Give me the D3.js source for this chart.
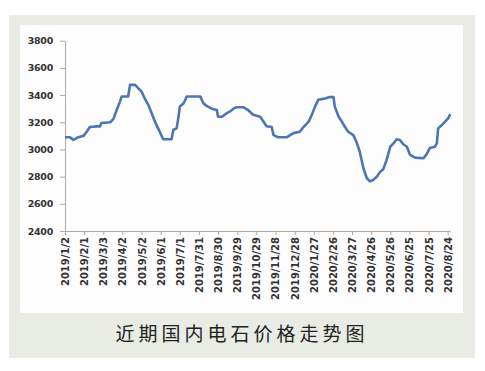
<!DOCTYPE html>
<html>
<head>
<meta charset="utf-8">
<script src="https://cdn.jsdelivr.net/npm/d3@7"></script>
<style>
  body { margin: 0; background: #fff; }
  svg { display: block; }
  .axis path, .axis line { stroke: #b3a79e; }
  .axis text { font-family: "DejaVu Sans", sans-serif; font-weight: bold; fill: #333; }
</style>
</head>
<body>
<svg id="chart" width="485" height="371"></svg>
<script>
// calcium carbide price
const dates = [
  "2019-01-02", "2019-01-10", "2019-01-15", "2019-01-23", "2019-01-31", "2019-02-05",
  "2019-02-10", "2019-02-21", "2019-02-26", "2019-02-28", "2019-03-14", "2019-03-19",
  "2019-03-24", "2019-03-29", "2019-04-01", "2019-04-11", "2019-04-14", "2019-04-22",
  "2019-04-27", "2019-05-02", "2019-05-07", "2019-05-13", "2019-05-18", "2019-05-23",
  "2019-05-28", "2019-06-03", "2019-06-05", "2019-06-18", "2019-06-21", "2019-06-26",
  "2019-06-29", "2019-07-01", "2019-07-07", "2019-07-12", "2019-08-02", "2019-08-07",
  "2019-08-12", "2019-08-20", "2019-08-28", "2019-08-30", "2019-09-05", "2019-09-12",
  "2019-09-18", "2019-09-23", "2019-09-28", "2019-10-09", "2019-10-16", "2019-10-24",
  "2019-11-04", "2019-11-09", "2019-11-14", "2019-11-22", "2019-11-25", "2019-12-02",
  "2019-12-16", "2019-12-26", "2020-01-05", "2020-01-11", "2020-01-19", "2020-01-24",
  "2020-01-29", "2020-02-03", "2020-02-08", "2020-02-14", "2020-02-21", "2020-02-27",
  "2020-02-29", "2020-03-06", "2020-03-11", "2020-03-16", "2020-03-21", "2020-03-29",
  "2020-04-03", "2020-04-08", "2020-04-14", "2020-04-19", "2020-04-24", "2020-04-29",
  "2020-05-05", "2020-05-10", "2020-05-15", "2020-05-20", "2020-05-26", "2020-05-31",
  "2020-06-05", "2020-06-10", "2020-06-15", "2020-06-21", "2020-06-26", "2020-07-04",
  "2020-07-17", "2020-07-22", "2020-07-27", "2020-08-04", "2020-08-07", "2020-08-09",
  "2020-08-15", "2020-08-20", "2020-08-25", "2020-08-28"
];
const prices = [
  3090, 3090, 3070, 3090, 3100, 3130,
  3165, 3170, 3170, 3195, 3200, 3225,
  3290, 3350, 3390, 3390, 3475, 3475,
  3450, 3425, 3375, 3325, 3265, 3205,
  3155, 3095, 3075, 3075, 3145, 3155,
  3240, 3315, 3340, 3390, 3390, 3340,
  3320, 3300, 3290, 3240, 3240, 3265,
  3280, 3300, 3310, 3310, 3290, 3255,
  3240, 3205, 3170, 3165, 3105, 3090,
  3090, 3120, 3130, 3165, 3205, 3255,
  3315, 3365, 3370, 3375, 3385, 3385,
  3315, 3240, 3205, 3165, 3130, 3105,
  3055, 2985, 2860, 2790, 2765, 2775,
  2800, 2835, 2855, 2920, 3020, 3045,
  3075, 3070, 3040, 3020, 2960, 2940,
  2935, 2965, 3010, 3020, 3045, 3155,
  3180, 3205, 3230, 3260
];
const tickDates = [
  "2019-01-02", "2019-02-01", "2019-03-03", "2019-04-02", "2019-05-02", "2019-06-01",
  "2019-07-01", "2019-07-31", "2019-08-30", "2019-09-29", "2019-10-29", "2019-11-28",
  "2019-12-28", "2020-01-27", "2020-02-26", "2020-03-27", "2020-04-26", "2020-05-26",
  "2020-06-25", "2020-07-25", "2020-08-24"
];
const yTicks = [2400, 2600, 2800, 3000, 3200, 3400, 3600, 3800];
const title = "近期国内电石价格走势图";

const parse = d3.timeParse("%Y-%m-%d");
const fmt = d3.timeFormat("%Y/%-m/%-d");
const data = dates.map((d, i) => ({ date: parse(d), value: prices[i] }));

const svg = d3.select("#chart");

// frame
svg.append("rect").attr("x", 9).attr("y", 15).attr("width", 466).attr("height", 343)
  .attr("fill", "#e8ece5");
svg.append("rect").attr("x", 20).attr("y", 25).attr("width", 443).attr("height", 288)
  .attr("fill", "#fdfdfd");

const margin = { left: 65, top: 40.7, bottom: 231 };
const x0 = parse("2019-01-02");
const pxPerDay = (447.7 - margin.left) / 600;
const lastDate = data[data.length - 1].date;
const xEnd = margin.left + d3.timeDay.count(x0, lastDate) * pxPerDay;

const x = d3.scaleTime().domain([x0, lastDate]).range([margin.left, xEnd]);
const y = d3.scaleLinear().domain([2400, 3800]).range([margin.bottom, margin.top]);

const yAxis = svg.append("g")
  .attr("class", "axis")
  .attr("transform", `translate(${margin.left},0)`)
  .call(d3.axisLeft(y).tickValues(yTicks).tickFormat(d3.format("d"))
    .tickSize(5).tickSizeOuter(0).tickPadding(7));
yAxis.selectAll("text").style("font-size", "9.5px").attr("letter-spacing", "-0.3");

const xAxis = svg.append("g")
  .attr("class", "axis")
  .attr("transform", `translate(0,${margin.bottom})`)
  .call(d3.axisBottom(x).tickValues(tickDates.map(parse)).tickFormat(fmt)
    .tickSize(4).tickSizeOuter(0));
xAxis.selectAll("text")
  .style("font-size", "10px")
  .attr("transform", "rotate(-90)")
  .attr("text-anchor", "end")
  .attr("x", -6)
  .attr("y", 0)
  .attr("dy", "0.35em");

const line = d3.line()
  .x(d => x(d.date))
  .y(d => y(d.value));

svg.append("path")
  .datum(data)
  .attr("fill", "none")
  .attr("stroke", "#4a77b4")
  .attr("stroke-width", 2.6)
  .attr("stroke-linejoin", "round")
  .attr("d", line);

svg.append("text")
  .attr("x", 242)
  .attr("y", 341)
  .attr("text-anchor", "middle")
  .attr("font-family", "'Noto Sans CJK SC', sans-serif")
  .attr("font-size", 19)
  .attr("letter-spacing", 4)
  .attr("fill", "#222")
  .text(title);
</script>
</body>
</html>
